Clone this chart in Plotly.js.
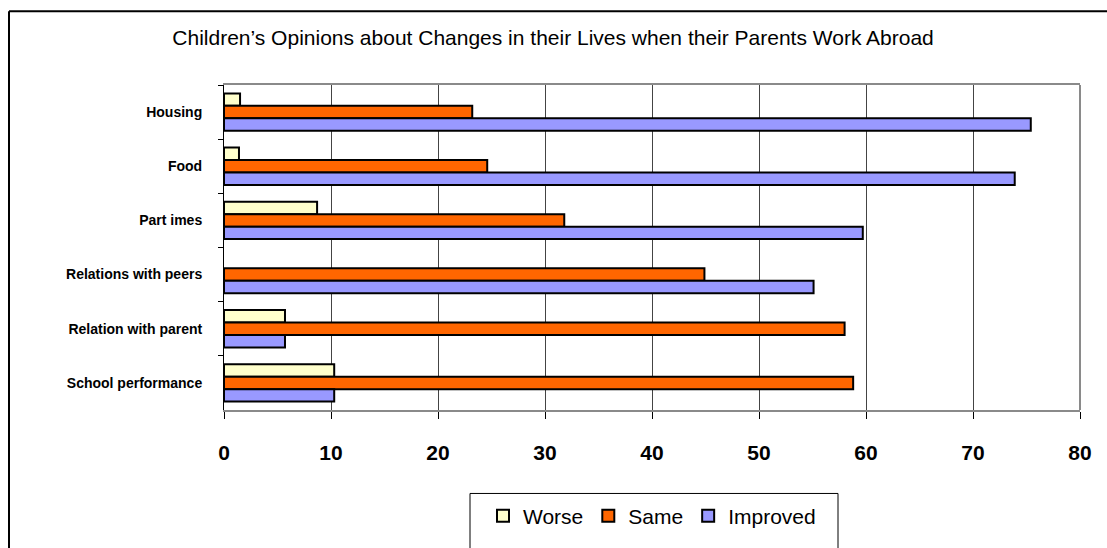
<!DOCTYPE html>
<html>
<head>
<meta charset="utf-8">
<script src="https://cdn.plot.ly/plotly-3.0.1.min.js"></script>
<style>
html,body{margin:0;padding:0;background:#fff;}
#chart{width:1107px;height:548px;}
</style>
</head>
<body>
<div id="chart"></div>
<script>
var categories = ['Housing', 'Food', 'Part imes', 'Relations with peers', 'Relation with parent', 'School performance'];
var worse = [1.5, 1.4, 8.7, null, 5.7, 10.3];
var same = [23.2, 24.6, 31.8, 44.9, 58.0, 58.8];
var improved = [75.4, 73.9, 59.7, 55.1, 5.7, 10.3];
var seriesNames = ['Worse', 'Same', 'Improved'];
var xTicks = [0, 10, 20, 30, 40, 50, 60, 70, 80];
var titleText = 'Children’s Opinions about Changes in their Lives when their Parents Work Abroad';

var FONT = "'Liberation Sans', Arial, sans-serif";
var colors = ['#FFFFCC', '#FF6600', '#9999FF'];
var series = [worse, same, improved];

var traces = series.map(function (vals, i) {
  return {
    type: 'bar',
    orientation: 'h',
    name: seriesNames[i],
    x: vals,
    y: categories,
    marker: {color: colors[i], line: {color: '#000', width: 2}},
    hoverinfo: 'x+y+name'
  };
});

// plot area in pixels: x 224..1080, y 85..416
function px(x) { return (x - 224) / 856; }
function py(y) { return (416 - y) / 331; }

var layout = {
  width: 1107,
  height: 548,
  paper_bgcolor: '#fff',
  plot_bgcolor: '#fff',
  margin: {l: 224, r: 27, t: 85, b: 132, pad: 0},
  title: {
    text: titleText,
    font: {family: FONT, size: 21, color: '#000'},
    x: 0.4996, xref: 'container', xanchor: 'center',
    y: 1 - 38 / 548, yref: 'container', yanchor: 'middle'
  },
  barmode: 'group',
  bargap: 0.31,
  bargroupgap: 0,
  showlegend: true,
  legend: {
    orientation: 'h',
    x: 0.50, xanchor: 'center',
    y: py(524), yanchor: 'middle',
    font: {family: FONT, size: 21, color: '#000'},
    borderwidth: 0,
    bgcolor: 'rgba(0,0,0,0)',
    traceorder: 'normal'
  },
  xaxis: {
    range: [0, 80],
    tickvals: xTicks,
    ticktext: xTicks.map(String),
    showgrid: true,
    gridcolor: '#444',
    gridwidth: 1,
    zeroline: false,
    showline: true,
    linecolor: '#8a8a8a',
    linewidth: 2,
    mirror: true,
    ticks: 'outside',
    ticklen: 7,
    tickcolor: '#000',
    tickwidth: 1,
    ticklabelstandoff: 16,
    tickfont: {family: FONT, size: 21, color: '#000', weight: 'bold'},
    fixedrange: true
  },
  yaxis: {
    type: 'category',
    categoryorder: 'array',
    categoryarray: categories,
    autorange: 'reversed',
    showgrid: false,
    zeroline: false,
    showline: true,
    linecolor: '#000',
    linewidth: 1,
    ticks: 'outside',
    tickson: 'boundaries',
    ticklen: 5,
    tickcolor: '#000',
    tickwidth: 1,
    ticklabelstandoff: 18,
    tickfont: {family: FONT, size: 14, color: '#000', weight: 'bold'},
    fixedrange: true
  },
  shapes: [
    {type: 'line', xref: 'paper', yref: 'paper', x0: 1, x1: 1, y0: 0, y1: 1,
     line: {color: '#8a8a8a', width: 2}},
    {type: 'line', xref: 'paper', yref: 'paper', x0: px(9), x1: px(9), y0: py(10), y1: py(580),
     line: {color: '#000', width: 2}},
    {type: 'line', xref: 'paper', yref: 'paper', x0: px(9), x1: px(1130), y0: py(10), y1: py(10),
     line: {color: '#000', width: 2}},
    {type: 'rect', xref: 'paper', yref: 'paper', x0: px(470), x1: px(838), y0: py(501), y1: py(580),
     line: {color: '#000', width: 1}, fillcolor: 'rgba(0,0,0,0)', layer: 'below'}
  ]
};

Plotly.newPlot('chart', traces, layout, {displayModeBar: false, staticPlot: true});
</script>
</body>
</html>
